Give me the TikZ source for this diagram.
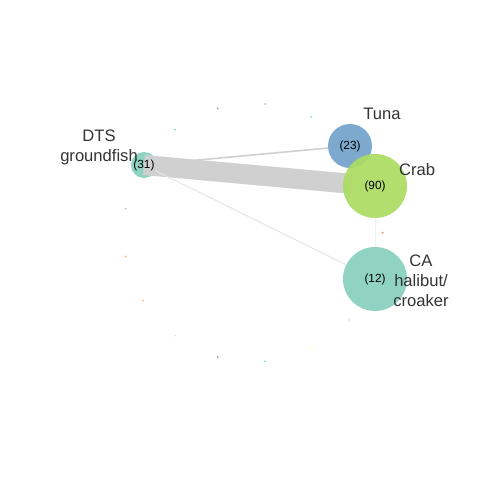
\documentclass[tikz,border=0pt]{standalone}
\usepackage{fontspec}
\setmainfont{Liberation Sans}
\usepackage{tikz}
\usetikzlibrary{positioning}

\pgfdeclarelayer{under}
\pgfdeclarelayer{edges}
\pgfsetlayers{under,edges,main}

\definecolor{tunablue}{RGB}{116,163,203}
\definecolor{crabgreen}{RGB}{172,220,98}
\definecolor{fishteal}{RGB}{136,208,190}
\definecolor{lblgray}{RGB}{51,51,51}
\definecolor{edgegray}{RGB}{208,208,208}
\definecolor{dotpurple}{RGB}{188,128,189}
\definecolor{dotlav}{RGB}{190,186,218}
\definecolor{dotteal}{RGB}{141,211,199}
\definecolor{dotorange}{RGB}{253,180,98}
\definecolor{dotlgreen}{RGB}{204,235,197}
\definecolor{dotyellow}{RGB}{255,255,179}
\definecolor{dotpink}{RGB}{252,205,229}
\definecolor{dotred}{RGB}{251,128,114}

\begin{document}
\begin{tikzpicture}[x=0.025cm,y=-0.025cm,
	vert/.style={circle,inner sep=0pt,fill opacity=.93,text opacity=1},
	dot/.style={circle,inner sep=0pt,minimum size=0.05cm},
	num/.style={font=\fontsize{8.4}{10}\selectfont,text=black},
	lbl/.style={font=\fontsize{11.8}{14.2}\selectfont,text=lblgray,align=center}]

		\useasboundingbox (0,0) rectangle (480,480);

		%big nodes
		\begin{pgfonlayer}{under}
		\node[vert,fill=fishteal,minimum size=0.65cm] (dts) at (144,165) {};
		\end{pgfonlayer}
		\node[vert,num,fill=tunablue,minimum size=1.1cm] (tuna) at (350,146) {(23)};
		\node[vert,num,fill=crabgreen,minimum size=1.6cm] (crab) at (375,186) {(90)};
		\node[vert,num,fill=fishteal,minimum size=1.6cm] (ca) at (375,279) {(12)};
		\node[num] (dtsnum) at (dts) {(31)};

		%small nodes
		\node[dot,fill=dotlav] (d1) at (125.7,208.7) {};
		\node[dot,fill=dotorange] (d2) at (125.7,256.3) {};
		\node[dot,fill=dotorange] (d3) at (143,300.7) {};
		\node[dot,fill=dotlgreen] (d4) at (175,335.7) {};
		\node[dot,fill=dotpurple] (d5) at (217.7,357) {};
		\node[dot,fill=dotteal] (d6) at (265,361.3) {};
		\node[dot,fill=dotyellow] (d7) at (311,348.3) {};
		\node[dot,fill=dotpink] (d8) at (349,320) {};
		\node[dot,fill=dotred] (d9) at (382.7,232.7) {};
		\node[dot,fill=dotteal] (d10) at (311,117) {};
		\node[dot,fill=dotlav] (d11) at (265,104) {};
		\node[dot,fill=dotpurple] (d12) at (217.7,108.3) {};
		\node[dot,fill=dotteal] (d13) at (175,129.7) {};

		%edges
		\begin{pgfonlayer}{edges}
		\draw[edgegray,line width=0.5cm,shorten >=-0.22cm] (dts.center) -- (crab);
		\draw[edgegray,line width=0.04cm] (dts) -- (tuna);
		\draw[black!10,line width=0.025cm] (dts) -- (ca);
		\draw[black!6,line width=0.015cm] (crab) -- (ca);
		\end{pgfonlayer}

		%labels
		\node[lbl] (dtslbl) at (99,147) {DTS\\groundfish};
		\node[lbl] (tunalbl) at (382,114) {Tuna};
		\node[lbl] (crablbl) at (417,170) {Crab};
		\node[lbl] (calbl) at (421,281) {CA\\halibut/\\croaker};

\end{tikzpicture}
\end{document}
